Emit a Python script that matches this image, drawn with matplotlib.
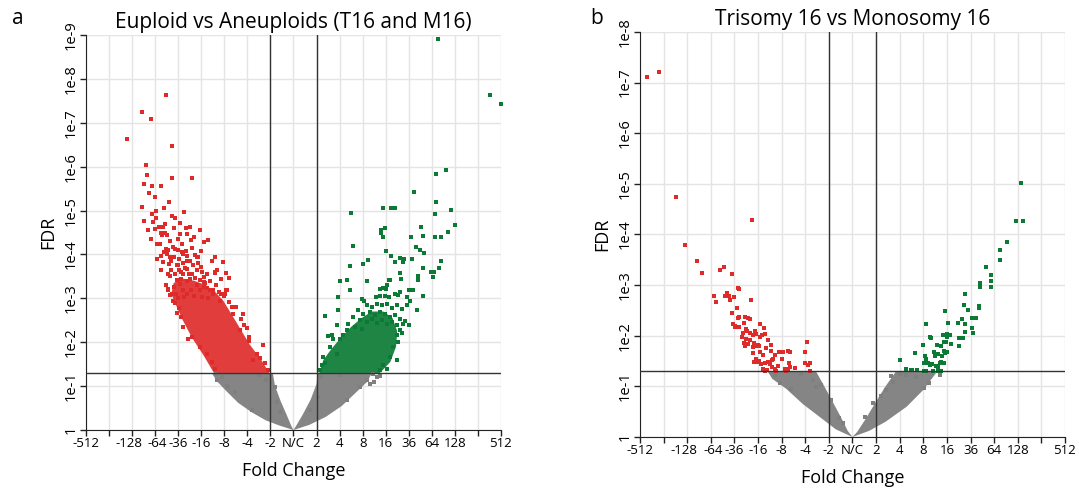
import matplotlib.pyplot as plt
from matplotlib.transforms import ScaledTranslation
import numpy as np

plt.rcParams['font.family'] = ['Open Sans', 'DejaVu Sans']

# x axis: log2 fold change, labelled with fold values
fc_ticks = [-9, -8, -7, -6, -5, -4, -3, -2, -1, 0, 1, 2, 3, 4, 5, 6, 7, 8, 9]
fc_labels = ['-512', '', '-128', '-64', '-36', '-16', '-8', '-4', '-2', 'N/C',
             '2', '4', '8', '16', '36', '64', '128', '', '512']
fdr_cut = 0.05
fc_cut = 1

# ---------------- panel a: Euploid vs Aneuploids ----------------
# dense cores of the clouds (outline, -log10 FDR)
gray_a_left_x = [0, -0.6, -1.2, -1.8, -2.4, -2.9, -3.3, -3.55, -0.9, -0.8, -0.55, -0.3, -0.1]
gray_a_left_y = [0, 0.1, 0.22, 0.4, 0.62, 0.88, 1.1, 1.3, 1.3, 1.0, 0.65, 0.35, 0.1]
gray_a_right_x = [0, 0.7, 1.4, 2.1, 2.7, 3.2, 3.4, 1.05, 1.0, 0.75, 0.4, 0.12]
gray_a_right_y = [0, 0.12, 0.3, 0.55, 0.85, 1.1, 1.3, 1.3, 1.05, 0.7, 0.35, 0.1]
red_a_core_x = [-1.05, -1.4, -1.9, -2.3, -2.7, -3.05, -3.4, -3.8, -4.3, -4.8, -5.2, -5.3,
                -5.1, -4.8, -4.4, -3.9, -3.45]
red_a_core_y = [1.3, 1.6, 1.95, 2.3, 2.65, 2.95, 3.15, 3.3, 3.4, 3.45, 3.35, 3.1,
                2.85, 2.5, 2.1, 1.7, 1.3]
green_a_core_x = [1.12, 1.3, 1.65, 2.05, 2.5, 2.95, 3.4, 3.9, 4.3, 4.5, 4.45, 4.2, 3.75]
green_a_core_y = [1.3, 1.6, 1.85, 2.1, 2.35, 2.55, 2.7, 2.7, 2.55, 2.25, 1.9, 1.55, 1.3]

gray_a_x = [-2.54, -2.83, -3.11, -0.73, -0.8, -1.8, -0.59, -3.3, -2.9, -1.2, -1.5, -3.35,
            2.31, 2.88, 3.17, 3.62, 1.07, 0.72, 3.5, 3.3, 1.2, 2.0, 3.75, 3.45]
gray_a_y = [0.87, 0.98, 1.21, 0.64, 0.98, 0.45, 0.42, 1.15, 1.0, 1.15, 1.25, 1.28,
            0.68, 0.98, 1.14, 1.21, 0.76, 0.45, 1.1, 1.05, 1.2, 1.25, 1.22, 1.27]

red_a_x = [-5.54, -6.58, -6.18, -7.23, -5.25, -6.40, -6.35, -5.27, -4.41, -6.47, -6.12, -5.73,
           -6.28, -5.99, -6.56, -6.15, -6.50, -5.96, -6.09, -5.28, -5.14, -4.74, -4.94, -5.57,
           -5.85, -5.66, -6.00, -4.68, -4.50, -4.05, -5.73, -5.57, -4.91, -4.61, -5.70, -4.44,
           -3.69, -3.87, -5.79, -5.52, -5.45, -4.66, -4.02, -5.73, -5.91, -3.39, -3.06, -4.17,
           -3.42, -2.93, -2.80, -3.89, -2.90, -2.97, -5.44,
           -5.24, -5.12, -5.02, -4.85, -4.68, -5.47, -5.36, -5.18, -4.98, -4.78, -4.60, -4.27,
           -4.13, -4.49, -4.78, -5.00, -5.40, -5.64, -5.31, -5.15, -4.98, -4.80, -4.60, -4.42,
           -4.20, -4.01, -4.27, -4.05, -3.88, -3.74, -3.40, -5.07, -4.92, -4.63, -4.46, -4.05,
           -3.77, -3.48, -3.25, -3.13, -2.93, -5.43, -5.28, -5.10, -4.81,
           -3.00, -3.50, -3.70, -4.30, -4.60, -5.00, -5.20, -3.90, -4.20, -3.35, -4.90, -5.35,
           -4.50, -3.20, -3.95, -4.75, -5.15, -3.60,
           -5.55, -5.45, -5.30, -5.05, -4.90, -4.70, -4.55, -4.35, -4.15, -3.95, -3.60, -3.85,
           -4.60, -4.85, -5.00, -5.35, -5.60, -5.75, -5.90, -6.20, -6.30, -5.20, -4.40, -3.55,
           -3.30, -3.15, -5.50, -4.30, -5.95, -5.60, -5.40,
           -2.48, -2.81, -2.28, -2.15, -2.03, -1.91, -1.94, -1.31, -1.60, -1.45, -1.23, -1.09,
           -1.74, -2.32, -2.17, -2.61, -2.68,
           -4.59, -5.07, -4.86, -4.97, -5.21, -4.78, -4.42, -4.05, -3.76, -3.55, -3.40, -5.35]
red_a_y = [7.64, 7.24, 7.08, 6.64, 6.47, 6.05, 5.80, 5.75, 5.74, 5.61, 5.57, 5.55,
           5.40, 5.30, 5.09, 4.93, 4.77, 4.83, 4.75, 4.88, 4.82, 4.96, 4.71, 4.70,
           4.62, 4.62, 4.59, 4.61, 4.62, 4.55, 4.50, 4.48, 4.47, 4.46, 4.44, 4.33,
           4.34, 4.29, 4.23, 4.13, 4.10, 4.08, 4.08, 3.97, 3.89, 3.94, 3.83, 3.94,
           3.58, 3.58, 3.46, 3.37, 3.20, 3.11, 3.21,
           4.17, 4.13, 4.11, 4.06, 4.08, 4.02, 3.95, 3.94, 3.89, 4.02, 3.97, 3.98,
           3.94, 3.86, 3.80, 3.77, 3.79, 3.82, 3.64, 3.56, 3.65, 3.56, 3.68, 3.56,
           3.65, 3.71, 3.47, 3.41, 3.48, 3.56, 3.59, 3.41, 3.32, 3.39, 3.18, 3.18,
           3.23, 3.18, 3.14, 3.11, 3.20, 3.18, 3.11, 3.11, 3.18,
           3.05, 3.10, 3.00, 3.05, 3.10, 3.00, 3.25, 3.25, 3.30, 3.30, 3.45, 3.50,
           3.45, 2.95, 3.02, 3.02, 2.90, 3.18,
           3.30, 3.55, 3.85, 3.75, 3.60, 3.70, 3.55, 3.75, 3.80, 3.60, 3.40, 3.35,
           3.85, 4.25, 4.35, 4.30, 4.05, 3.65, 4.25, 4.35, 4.55, 4.60, 4.15, 3.85,
           3.65, 3.45, 4.45, 4.40, 5.00, 5.05, 5.20,
           2.80, 2.92, 2.54, 2.39, 2.33, 2.12, 2.02, 1.93, 1.74, 1.63, 1.52, 1.36,
           1.59, 2.27, 2.65, 2.65, 2.80,
           2.08, 2.67, 2.57, 2.77, 2.95, 2.35, 2.12, 1.89, 1.74, 1.55, 1.40, 3.07]

green_a_x = [6.28, 8.54, 9.0, 6.63, 6.18, 5.23, 6.19, 3.90, 4.23, 4.39, 6.82, 6.14,
             7.02, 2.48, 5.54, 3.97, 3.79, 3.79, 6.69, 5.62, 3.87, 6.13, 6.42, 5.08,
             2.58, 5.33, 5.48, 5.68, 4.00, 4.21, 4.63, 4.81, 4.73, 5.12, 3.23, 3.01,
             2.45, 4.39, 6.40, 6.33, 5.62, 5.97, 6.08, 4.60, 5.40, 6.05, 4.65, 5.41,
             2.02, 2.33, 3.20, 4.14, 4.20, 4.04, 4.00, 2.44, 3.76, 3.87, 5.00, 5.20,
             5.60, 1.92,
             2.97, 3.06, 3.58, 3.75, 3.95, 4.13, 4.40, 4.55, 4.62, 4.91, 5.05, 4.91,
             3.17, 3.39, 3.61, 3.82, 4.04, 4.26, 4.47, 4.69, 2.81, 3.03, 3.32, 3.53,
             3.75, 3.97, 4.18, 4.40, 4.62, 2.59, 2.88, 3.17, 3.39, 3.61, 3.82, 4.04,
             4.26, 4.47, 2.38, 2.67, 2.96, 2.31, 2.16, 2.02, 4.76, 4.62, 4.47,
             1.50, 1.68, 1.73, 1.35, 1.90, 1.92, 1.58, 1.29, 1.22, 1.15, 1.37, 1.87,
             4.47, 4.04, 4.69, 4.85, 4.99, 5.34, 4.33, 4.55, 4.18, 3.90, 3.75]
green_a_y = [8.90, 7.64, 7.42, 5.93, 5.83, 5.43, 5.19, 5.07, 5.07, 5.05, 5.02, 4.92,
             4.67, 4.94, 4.63, 4.60, 4.55, 4.50, 4.51, 4.43, 4.40, 4.40, 4.40, 4.39,
             4.20, 4.18, 4.10, 4.03, 4.07, 3.97, 3.92, 3.89, 3.83, 3.90, 3.87, 3.79,
             3.73, 3.82, 3.85, 3.70, 3.70, 3.61, 3.59, 3.58, 3.50, 3.48, 3.45, 3.42,
             3.39, 3.41, 3.39, 3.42, 3.42, 3.30, 3.21, 3.20, 3.21, 3.24, 3.20, 3.20,
             3.05, 3.03,
             2.99, 2.95, 3.03, 3.05, 3.05, 3.02, 3.11, 3.07, 3.14, 3.02, 2.95, 2.84,
             2.84, 2.80, 2.88, 2.84, 2.88, 2.79, 2.84, 2.76, 2.73, 2.65, 2.69, 2.61,
             2.69, 2.64, 2.58, 2.61, 2.54, 2.58, 2.50, 2.46, 2.54, 2.44, 2.50, 2.42,
             2.46, 2.39, 2.42, 2.35, 2.31, 2.27, 2.16, 2.08, 2.42, 2.27, 2.16,
             2.14, 2.16, 2.08, 2.60, 2.39, 2.73, 1.89, 1.67, 1.48, 1.36, 1.52, 1.74,
             1.60, 1.39, 2.20, 2.48, 2.39, 2.73, 1.89, 2.00, 1.67, 1.48, 1.36]

# ---------------- panel b: Trisomy 16 vs Monosomy 16 ----------------
gray_b_left_x = [0, -0.7, -1.4, -2.1, -2.8, -3.4, -3.6, -1.55, -1.25, -0.9, -0.5, -0.2]
gray_b_left_y = [0, 0.15, 0.4, 0.65, 0.95, 1.15, 1.3, 1.3, 1.05, 0.75, 0.4, 0.12]
gray_b_right_x = [0, 0.7, 1.4, 2.3, 3.0, 3.6, 1.85, 1.4, 1.0, 0.55, 0.2]
gray_b_right_y = [0, 0.12, 0.3, 0.6, 0.93, 1.3, 1.3, 1.0, 0.7, 0.35, 0.1]

gray_b_x = [-1.54, -1.68, -1.33, -0.91, -0.55, -0.39, -3.09, -2.6, -3.3, -2.2,
            1.71, 1.43, 1.21, 0.86, 0.51, 2.27, 2.70, 3.26, 3.05, 3.69, 2.0, 1.65]
gray_b_y = [0.99, 1.13, 1.03, 0.73, 0.37, 0.27, 1.06, 0.95, 1.22, 1.25,
            1.09, 0.93, 0.80, 0.67, 0.40, 1.23, 1.19, 1.06, 0.96, 1.23, 1.25, 1.2]

red_b_x = [-8.69, -8.18, -7.47, -7.10, -6.57, -6.36, -4.27, -5.62, -5.42, -5.11, -4.83, -4.80,
           -5.86, -5.79, -5.41, -5.31, -5.22, -5.00, -5.20, -4.31, -4.90, -5.11, -5.06, -4.98,
           -4.84, -4.79, -4.55, -4.60, -4.41, -4.34, -3.91, -3.73, -4.53, -4.48, -4.65, -4.67,
           -4.53, -4.34, -4.22, -4.12, -4.08, -3.84, -3.69, -4.60, -4.55, -4.43, -4.18, -4.01,
           -4.22, -4.05, -3.97, -3.91, -3.77, -4.22, -4.08, -3.94, -4.17, -4.00, -3.87, -3.71,
           -3.59, -3.49, -3.40, -3.35, -3.45, -3.26, -3.11, -2.95, -2.74, -2.66, -3.81, -3.69,
           -3.60, -3.42, -3.29, -3.22, -3.15, -2.87, -2.81, -2.72, -2.66, -2.44, -1.93, -1.99,
           -1.99, -1.89, -1.81, -1.81, -2.98, -2.70, -3.91, -3.59, -3.45, -3.66, -4.36, -4.79,
           -4.97]
red_b_y = [7.12, 7.21, 4.74, 3.79, 3.48, 3.23, 4.29, 3.30, 3.35, 3.22, 2.95, 2.93,
           2.79, 2.67, 2.78, 2.85, 2.78, 2.77, 2.71, 2.70, 2.54, 2.44, 2.24, 2.17,
           2.35, 2.37, 2.37, 2.26, 2.36, 2.33, 2.24, 2.15, 2.13, 2.10, 2.05, 1.98,
           1.94, 2.06, 2.02, 2.10, 2.04, 2.02, 2.03, 1.85, 1.79, 1.84, 1.86, 1.82,
           1.77, 1.79, 1.80, 1.68, 1.61, 1.65, 1.54, 1.51, 1.49, 1.49, 1.44, 1.47,
           1.49, 1.44, 1.52, 1.55, 1.69, 1.62, 1.67, 1.67, 1.69, 1.67, 1.34, 1.31,
           1.32, 1.39, 1.34, 1.31, 1.41, 1.35, 1.30, 1.34, 1.39, 1.36, 1.87, 1.68,
           1.47, 1.42, 1.46, 1.31, 1.54, 1.47, 1.98, 1.92, 1.82, 1.75, 1.92, 2.18,
           2.20]

green_b_x = [7.15, 6.94, 7.22, 6.55, 6.24, 6.24, 5.64, 5.85, 5.85, 5.88, 5.40, 5.40,
             4.75, 4.73, 4.89, 5.37, 5.37, 3.91, 4.63, 5.06, 5.24, 4.46, 3.11, 4.05,
             4.77, 4.76, 5.10, 5.08, 3.99, 4.14, 3.83, 4.01, 3.30, 3.33, 4.53, 4.70,
             4.51, 2.97, 3.57, 3.76, 3.87, 3.98, 4.18, 2.64, 3.45, 3.64, 3.88, 3.93,
             4.00, 3.81, 3.49, 3.08, 3.12, 3.22, 3.35, 3.01, 3.69, 3.77, 3.88, 3.63,
             3.52, 3.29, 2.02, 2.27, 2.49, 2.74, 2.53, 3.02, 3.12, 3.40, 3.62, 3.76]
green_b_y = [5.01, 4.26, 4.26, 3.86, 3.70, 3.49, 3.35, 3.19, 3.08, 2.96, 3.05, 2.96,
             2.83, 2.60, 2.50, 2.59, 2.55, 2.48, 2.33, 2.36, 2.35, 2.25, 2.24, 2.26,
             2.23, 2.07, 2.06, 2.15, 2.04, 2.02, 2.02, 1.97, 1.98, 1.96, 1.95, 1.95,
             1.79, 1.81, 1.82, 1.79, 1.87, 1.87, 1.84, 1.66, 1.68, 1.64, 1.70, 1.65,
             1.68, 1.60, 1.59, 1.59, 1.54, 1.47, 1.44, 1.47, 1.46, 1.48, 1.47, 1.39,
             1.40, 1.42, 1.53, 1.34, 1.33, 1.32, 1.33, 1.30, 1.30, 1.30, 1.31, 1.31]

RED = '#df2a2a'
GREEN = '#0b7a34'
GRAY = '#7f7f7f'
# dense areas: same hue, a touch lighter for the white speckle between points
RED_CORE = '#e23d3d'
GREEN_CORE = '#1f8545'
GRAY_CORE = '#858585'


def style(ax, ymax, title):
    ax.set_xlim(-9, 9)
    ax.set_ylim(0, ymax)
    ax.set_xticks(fc_ticks)
    ax.set_xticklabels(fc_labels, fontsize=9.5)
    yt = list(range(0, ymax + 1))
    ax.set_yticks(yt)
    ax.set_yticklabels(['1'] + ['1e-%d' % i for i in yt[1:]], rotation=90,
                       va='center', fontsize=10.5)
    ax.grid(True, color='#e4e4e4', lw=1)
    ax.set_axisbelow(True)
    for s in ['top', 'right']:
        ax.spines[s].set_visible(False)
    for s in ['left', 'bottom']:
        ax.spines[s].set_color('#222222')
    ax.tick_params(length=4, width=1, color='#222222', pad=1)
    # nudge the crowded -128 / -64 pair apart a little
    for lab in ax.get_xticklabels():
        if lab.get_text() == '-128':
            lab.set_transform(lab.get_transform() + ScaledTranslation(-2.5 / 72, 0, fig.dpi_scale_trans))
        elif lab.get_text() == '-64':
            lab.set_transform(lab.get_transform() + ScaledTranslation(1.5 / 72, 0, fig.dpi_scale_trans))
    ax.axhline(-np.log10(fdr_cut), color='#333333', lw=1, zorder=4)
    ax.axvline(-fc_cut, color='#333333', lw=1, zorder=4)
    ax.axvline(fc_cut, color='#333333', lw=1, zorder=4)
    ax.set_xlabel('Fold Change', fontsize=13, labelpad=9)
    ax.set_ylabel('FDR', fontsize=13, labelpad=5)
    ax.set_title(title, fontsize=15, pad=5)


fig = plt.figure(figsize=(10.79, 4.9), dpi=100)
ax1 = fig.add_axes([0.0797, 0.1224, 0.3846, 0.8061])
ax2 = fig.add_axes([0.5931, 0.1082, 0.3939, 0.8265])

kw = dict(marker='s', s=5.5, linewidths=0, zorder=3)
core = dict(lw=0, zorder=2)
for px, py in [(gray_a_left_x, gray_a_left_y), (gray_a_right_x, gray_a_right_y)]:
    ax1.fill(px, py, color=GRAY_CORE, **core)
ax1.fill(red_a_core_x, red_a_core_y, color=RED_CORE, **core)
ax1.fill(green_a_core_x, green_a_core_y, color=GREEN_CORE, **core)
ax1.scatter(gray_a_x, gray_a_y, color=GRAY, **kw)
ax1.scatter(red_a_x, red_a_y, color=RED, **kw)
ax1.scatter(green_a_x, green_a_y, color=GREEN, clip_on=False, **kw)
style(ax1, 9, 'Euploid vs Aneuploids (T16 and M16)')

for px, py in [(gray_b_left_x, gray_b_left_y), (gray_b_right_x, gray_b_right_y)]:
    ax2.fill(px, py, color=GRAY_CORE, **core)
ax2.scatter(gray_b_x, gray_b_y, color=GRAY, **kw)
ax2.scatter(red_b_x, red_b_y, color=RED, **kw)
ax2.scatter(green_b_x, green_b_y, color=GREEN, **kw)
style(ax2, 8, 'Trisomy 16 vs Monosomy 16')

fig.text(0.011, 0.952, 'a', fontsize=15)
fig.text(0.547, 0.952, 'b', fontsize=15)

fig.savefig('out.png', dpi=100)
